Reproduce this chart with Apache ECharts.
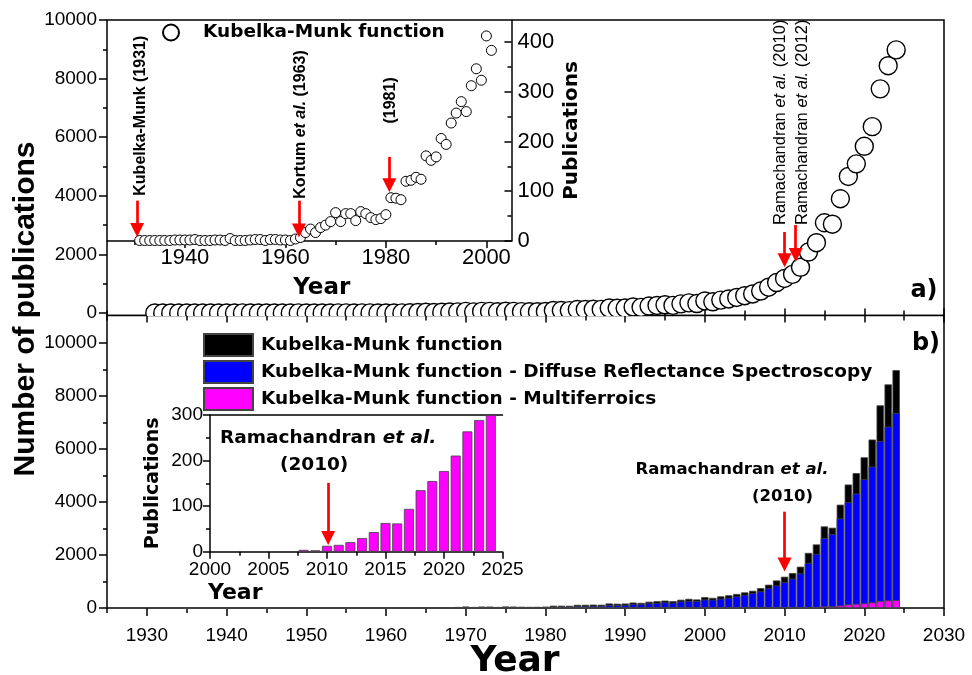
<!DOCTYPE html>
<html>
<head>
<meta charset="utf-8">
<title>Kubelka-Munk function publications</title>
<script src="https://cdn.jsdelivr.net/npm/echarts@6/dist/echarts.min.js"></script>
<style>
  html, body { margin: 0; padding: 0; background: #fff; }
  #wrap { position: relative; width: 972px; height: 675px; }
  #lower { position: absolute; left: 0; top: 0; width: 972px; height: 675px; }
  /* panel a) lives in its own layer so its big markers are cut at the panel edge */
  #upper { position: absolute; left: 0; top: 0; width: 972px; height: 316px; overflow: hidden; }
</style>
</head>
<body>
<div id="wrap"><div id="lower"></div><div id="upper"></div></div>
<script>
// ---- data: publications per year ----
const years = [
  1931,1932,1933,1934,1935,1936,1937,1938,1939,1940,
  1941,1942,1943,1944,1945,1946,1947,1948,1949,1950,
  1951,1952,1953,1954,1955,1956,1957,1958,1959,1960,
  1961,1962,1963,1964,1965,1966,1967,1968,1969,1970,
  1971,1972,1973,1974,1975,1976,1977,1978,1979,1980,
  1981,1982,1983,1984,1985,1986,1987,1988,1989,1990,
  1991,1992,1993,1994,1995,1996,1997,1998,1999,2000,
  2001,2002,2003,2004,2005,2006,2007,2008,2009,2010,
  2011,2012,2013,2014,2015,2016,2017,2018,2019,2020,
  2021,2022,2023,2024
];
// Kubelka-Munk function (all)
const kmTotal = [
  1,1,1,1,1,1,1,2,2,2,
  2,3,1,1,1,2,2,1,5,1,
  1,1,2,3,3,1,3,3,2,2,
  1,4,7,17,24,17,27,32,39,57,
  39,55,55,41,59,55,47,43,45,53,
  87,86,83,120,122,128,124,171,162,169,
  206,194,237,257,280,260,312,346,323,412,
  383,440,480,530,590,650,750,880,1040,1180,
  1320,1560,2080,2400,3080,3030,3900,4660,5090,5690,
  6360,7650,8440,8980
];
// Kubelka-Munk function - Diffuse Reflectance Spectroscopy
const kmDrs = [
  0,0,0,0,0,0,0,0,0,0,
  0,0,0,0,0,0,0,0,0,0,
  0,0,0,0,0,0,0,0,0,0,
  0,0,3,8,12,9,14,17,21,31,
  22,30,30,23,33,30,26,24,25,30,
  50,50,48,75,78,82,80,115,110,118,
  148,140,175,192,212,200,246,267,262,322,
  314,350,390,440,500,560,630,740,850,970,
  1110,1310,1700,2040,2640,2790,3380,3990,4320,4860,
  5340,6300,6850,7360
];
// Kubelka-Munk function - Multiferroics
const kmMulti = [
  0,0,0,0,0,0,0,0,0,0,
  0,0,0,0,0,0,0,0,0,0,
  0,0,0,0,0,0,0,0,0,0,
  0,0,0,0,0,0,0,0,0,0,
  0,0,0,0,0,0,0,0,0,0,
  0,0,0,0,0,0,0,0,0,0,
  0,0,0,0,0,0,0,0,0,0,
  0,0,0,0,0,0,0,4,3,13,
  15,21,30,43,63,62,94,135,155,177,
  211,264,289,300
];

// ---- tick labels ----
const yearMajor = [1930,1940,1950,1960,1970,1980,1990,2000,2010,2020,2030];
const yearMinor = [1925,1935,1945,1955,1965,1975,1985,1995,2005,2015,2025];
const countMajor = [0,2000,4000,6000,8000,10000];
const countMinor = [1000,3000,5000,7000,9000];
const insetYearMajor = [1940,1960,1980,2000];
const insetYearMinor = [1930,1950,1970,1990];
const insetCountMajor = [0,100,200,300,400];
const insetCountMinor = [50,150,250,350];

const NAME_ALL = 'Kubelka-Munk function';
const NAME_DRS = 'Kubelka-Munk function - Diffuse Reflectance Spectroscopy';
const NAME_MF = 'Kubelka-Munk function - Multiferroics';

// ---- styling helpers ----
const INK = '#000';
const RED = '#ff0000';
const SANS = '"Liberation Sans", Arial, Helvetica, sans-serif';
const WIDE = '"DejaVu Sans", Verdana, sans-serif';
const AXW = 1.5;
const plainNumber = v => String(v);

const pairs = (xs, ys) => xs.map((x, i) => [x, ys[i]]);

function tickAxis(base, values, length, inside) {
  return Object.assign({
    type: 'value',
    axisLine: { show: false, onZero: false },
    splitLine: { show: false },
    axisTick: { show: true, inside: inside, length: length, customValues: values,
                lineStyle: { color: INK, width: AXW } },
    axisLabel: { show: false }
  }, base);
}

function labelStyle(size, margin, values) {
  const s = { show: true, color: INK, fontFamily: SANS, fontSize: size, margin: margin,
              formatter: plainNumber };
  if (values) s.customValues = values;
  return s;
}

function arrows(list) {
  return {
    silent: true, animation: false,
    symbol: ['none', 'triangle'], symbolSize: 14,
    lineStyle: { color: RED, width: 2.7, type: 'solid', opacity: 1 },
    itemStyle: { color: RED },
    label: { show: false },
    emphasis: { disabled: true },
    data: list.map(a => [{ coord: [a[0], a[1]] }, { coord: [a[0], a[2]] }])
  };
}

function notes(list, common) {
  return {
    silent: true, animation: false,
    symbol: 'circle', symbolSize: 1,
    itemStyle: { color: 'rgba(0,0,0,0)' },
    label: Object.assign({ show: true, position: 'inside', color: INK }, common),
    emphasis: { disabled: true },
    data: list.map(n => ({ coord: [n[0], n[1]], value: 0, label: { formatter: n[2] } }))
  };
}

// ================= panel a) =================
const upper = echarts.init(document.getElementById('upper'));
const topMain = pairs(years, kmTotal);
const topInset = topMain.filter(p => p[0] <= 2001);

const vertBold = {
  rotate: 90, align: 'left', verticalAlign: 'middle',
  rich: {
    b: { fontFamily: SANS, fontWeight: 'bold', fontSize: 16, color: INK },
    bi: { fontFamily: SANS, fontWeight: 'bold', fontStyle: 'italic', fontSize: 16, color: INK }
  }
};
const vertPlain = {
  rotate: 90, align: 'left', verticalAlign: 'middle',
  rich: {
    r: { fontFamily: SANS, fontSize: 16.5, color: INK },
    ri: { fontFamily: SANS, fontStyle: 'italic', fontSize: 16.5, color: INK }
  }
};

upper.setOption({
  animation: false,
  textStyle: { fontFamily: SANS },
  grid: [
    { left: 107, right: 28, top: 20, height: 295.5, show: true,
      borderColor: INK, borderWidth: AXW, outerBoundsMode: 'none' },
    { left: 107, top: 20, width: 404.5, height: 221, show: false, outerBoundsMode: 'none' }
  ],
  xAxis: [
    tickAxis({ gridIndex: 0, min: 1925, max: 2030, position: 'bottom' }, yearMajor, 7, true),
    tickAxis({ gridIndex: 0, min: 1925, max: 2030, position: 'bottom' }, yearMinor, 5, true),
    {
      gridIndex: 1, type: 'value', min: 1924.5, max: 2005, position: 'bottom',
      axisLine: { show: true, onZero: false, lineStyle: { color: INK, width: AXW } },
      splitLine: { show: false },
      axisTick: { show: true, inside: false, length: 7, customValues: insetYearMajor,
                  lineStyle: { color: INK, width: AXW } },
      axisLabel: labelStyle(22, 6, insetYearMajor),
      name: 'Year', nameLocation: 'middle', nameGap: 36, nameMoveOverlap: false,
      nameTextStyle: { fontFamily: WIDE, fontWeight: 'bold', fontSize: 23, color: INK,
                       padding: [0, 0, 0, 25] }
    },
    tickAxis({ gridIndex: 1, min: 1924.5, max: 2005, position: 'bottom' }, insetYearMinor, 4, false)
  ],
  yAxis: [
    // tick labels of this axis are drawn by the lower layer so they are not cut
    tickAxis({ gridIndex: 0, min: -85, max: 10000, position: 'left' }, countMajor, 8, false),
    tickAxis({ gridIndex: 0, min: -85, max: 10000, position: 'left' }, countMinor, 4, false),
    {
      gridIndex: 1, type: 'value', min: 0, max: 444, position: 'right',
      axisLine: { show: true, onZero: false, lineStyle: { color: INK, width: AXW } },
      splitLine: { show: false },
      axisTick: { show: true, inside: true, length: 7, customValues: insetCountMajor,
                  lineStyle: { color: INK, width: AXW } },
      axisLabel: labelStyle(22, 6, insetCountMajor),
      name: 'Publications', nameLocation: 'middle', nameGap: 50, nameRotate: 90,
      nameMoveOverlap: false,
      nameTextStyle: { fontFamily: WIDE, fontWeight: 'bold', fontSize: 20, color: INK }
    },
    tickAxis({ gridIndex: 1, min: 0, max: 444, position: 'right' }, insetCountMinor, 4, true)
  ],
  legend: {
    data: [NAME_ALL],
    left: 162, top: 23, orient: 'horizontal', padding: 0,
    itemWidth: 16, itemHeight: 16, selectedMode: false,
    icon: 'emptyCircle',
    itemStyle: { color: INK, borderColor: INK, borderWidth: 1.4 },
    textStyle: { fontFamily: WIDE, fontWeight: 'bold', fontSize: 18.5, color: INK,
                 padding: [0, 0, 0, 19] }
  },
  series: [
    {
      type: 'scatter', name: NAME_ALL, xAxisIndex: 0, yAxisIndex: 0,
      data: topMain, symbol: 'circle', symbolSize: 18, clip: false,
      itemStyle: { color: '#fff', borderColor: INK, borderWidth: 1.4, opacity: 1 },
      emphasis: { disabled: true },
      markLine: arrows([[2010, 2765, 1800], [2011.4, 3003, 1980]]),
      markPoint: notes([
        [2009.5, 3003, '{r|Ramachandran }{ri|et al.}{r| (2010)}'],
        [2012.3, 3003, '{r|Ramachandran }{ri|et al.}{r| (2012)}']
      ], vertPlain)
    },
    {
      type: 'scatter', name: NAME_ALL, xAxisIndex: 2, yAxisIndex: 2,
      data: topInset, symbol: 'circle', symbolSize: 10,
      itemStyle: { color: '#fff', borderColor: INK, borderWidth: 1, opacity: 1 },
      emphasis: { disabled: true },
      markLine: arrows([[1930.5, 81, 22], [1962.7, 81, 21], [1980.7, 169, 112]]),
      markPoint: notes([
        [1931.2, 91, '{b|Kubelka-Munk (1931)}'],
        [1963.1, 85, '{b|Kortum }{bi|et al.}{b| (1963)}'],
        [1981.0, 236, '{b|(1981)}']
      ], vertBold)
    }
  ],
  graphic: [
    { type: 'text', x: 924, y: 291,
      style: { text: 'a)', fill: INK, font: 'bold 24px "DejaVu Sans"',
               align: 'center', verticalAlign: 'middle' } }
  ]
});

// ================= panel b) =================
const lower = echarts.init(document.getElementById('lower'));
const insetMulti = pairs(years, kmMulti).filter(p => p[0] >= 2000 && p[1] > 0);

const horiz = {
  align: 'center', verticalAlign: 'middle',
  rich: {
    b: { fontFamily: WIDE, fontWeight: 'bold', fontSize: 16.5, color: INK },
    bi: { fontFamily: WIDE, fontWeight: 'bold', fontStyle: 'italic', fontSize: 16.5, color: INK },
    B: { fontFamily: WIDE, fontWeight: 'bold', fontSize: 18.5, color: INK },
    Bi: { fontFamily: WIDE, fontWeight: 'bold', fontStyle: 'italic', fontSize: 18.5, color: INK }
  }
};

const barBorder = { borderColor: '#444', borderWidth: 0.8 };
const MAIN_BAR = 7.4;

lower.setOption({
  animation: false,
  textStyle: { fontFamily: SANS },
  grid: [
    { left: 107, right: 28, top: 315.5, height: 292.5, show: true,
      borderColor: INK, borderWidth: AXW, outerBoundsMode: 'none' },
    { left: 210, top: 415, width: 292.5, height: 136.7, show: false, outerBoundsMode: 'none' },
    // same frame as panel a), carries its count labels
    { left: 107, right: 28, top: 20, height: 295.5, show: false, outerBoundsMode: 'none' }
  ],
  xAxis: [
    {
      gridIndex: 0, type: 'value', min: 1925, max: 2030, position: 'bottom',
      axisLine: { show: false, onZero: false },
      splitLine: { show: false },
      axisTick: { show: true, inside: false, length: 8, customValues: yearMajor,
                  lineStyle: { color: INK, width: AXW } },
      axisLabel: labelStyle(19, 18, yearMajor),
      name: 'Year', nameLocation: 'middle', nameGap: 36, nameMoveOverlap: false,
      nameTextStyle: { fontFamily: WIDE, fontWeight: 'bold', fontSize: 36, color: INK,
                       padding: [0, 21, 0, 0] }
    },
    tickAxis({ gridIndex: 0, min: 1925, max: 2030, position: 'bottom' }, yearMinor, 5, false),
    tickAxis({ gridIndex: 0, min: 1925, max: 2030, position: 'top' }, yearMajor, 7, true),
    tickAxis({ gridIndex: 0, min: 1925, max: 2030, position: 'top' }, yearMinor, 5, true),
    {
      gridIndex: 1, type: 'value', min: 2000, max: 2025, interval: 5, position: 'bottom',
      axisLine: { show: true, onZero: false, lineStyle: { color: INK, width: AXW } },
      splitLine: { show: false },
      axisTick: { show: true, inside: false, length: 7, lineStyle: { color: INK, width: AXW } },
      minorTick: { show: true, splitNumber: 2, length: 4, lineStyle: { color: INK, width: AXW } },
      axisLabel: labelStyle(19, 9),
      name: 'Year', nameLocation: 'middle', nameGap: 31, nameMoveOverlap: false,
      nameTextStyle: { fontFamily: WIDE, fontWeight: 'bold', fontSize: 22, color: INK,
                       padding: [0, 242, 0, 0] }
    },
    {
      gridIndex: 1, type: 'value', min: 2000, max: 2025, position: 'top',
      axisLine: { show: true, onZero: false, lineStyle: { color: INK, width: AXW } },
      splitLine: { show: false }, axisTick: { show: false }, axisLabel: { show: false }
    },
    {
      gridIndex: 2, type: 'value', min: 1925, max: 2030, show: false
    }
  ],
  yAxis: [
    {
      gridIndex: 0, type: 'value', min: 0, max: 11040, position: 'left',
      axisLine: { show: false, onZero: false },
      splitLine: { show: false },
      axisTick: { show: true, inside: false, length: 8, customValues: countMajor,
                  lineStyle: { color: INK, width: AXW } },
      axisLabel: labelStyle(19, 10, countMajor)
    },
    tickAxis({ gridIndex: 0, min: 0, max: 11040, position: 'left' }, countMinor, 4, false),
    {
      gridIndex: 1, type: 'value', min: 0, max: 300, interval: 100, position: 'left',
      axisLine: { show: true, onZero: false, lineStyle: { color: INK, width: AXW } },
      splitLine: { show: false },
      axisTick: { show: true, inside: false, length: 7, lineStyle: { color: INK, width: AXW } },
      minorTick: { show: true, splitNumber: 2, length: 4, lineStyle: { color: INK, width: AXW } },
      axisLabel: labelStyle(19, 7),
      name: 'Publications', nameLocation: 'middle', nameGap: 47, nameMoveOverlap: false,
      nameTextStyle: { fontFamily: WIDE, fontWeight: 'bold', fontSize: 19, color: INK }
    },
    {
      gridIndex: 2, type: 'value', min: -85, max: 10000, position: 'left',
      axisLine: { show: false, onZero: false },
      splitLine: { show: false },
      axisTick: { show: false },
      axisLabel: labelStyle(19, 10, countMajor)
    }
  ],
  legend: {
    data: [NAME_ALL, NAME_DRS, NAME_MF], orient: 'vertical', left: 203, top: 333, padding: 0,
    itemWidth: 49, itemHeight: 22, itemGap: 3, icon: 'rect', selectedMode: false,
    textStyle: { fontFamily: WIDE, fontWeight: 'bold', fontSize: 18.5, color: INK,
                 padding: [0, 0, 0, 3] }
  },
  series: [
    {
      type: 'bar', name: NAME_ALL, xAxisIndex: 0, yAxisIndex: 0,
      data: pairs(years, kmTotal), barWidth: MAIN_BAR, barGap: '-100%',
      itemStyle: Object.assign({ color: '#000' }, barBorder), emphasis: { disabled: true }
    },
    {
      type: 'bar', name: NAME_DRS, xAxisIndex: 0, yAxisIndex: 0,
      data: pairs(years, kmDrs), barWidth: MAIN_BAR, barGap: '-100%',
      itemStyle: Object.assign({ color: '#0000ff' }, barBorder), emphasis: { disabled: true }
    },
    {
      type: 'bar', name: NAME_MF, xAxisIndex: 0, yAxisIndex: 0,
      data: pairs(years, kmMulti), barWidth: MAIN_BAR, barGap: '-100%',
      itemStyle: Object.assign({ color: '#ff00ff' }, barBorder), emphasis: { disabled: true },
      markLine: arrows([[2010, 3635, 1640]]),
      markPoint: notes([
        [2003.4, 5208, '{b|Ramachandran }{bi|et al.}'],
        [2009.75, 4201, '{b|(2010)}']
      ], horiz)
    },
    {
      type: 'bar', name: NAME_MF, xAxisIndex: 4, yAxisIndex: 2,
      data: insetMulti, barWidth: 10,
      itemStyle: Object.assign({ color: '#ff00ff' }, barBorder), emphasis: { disabled: true },
      markLine: arrows([[2010.1, 151, 30]]),
      markPoint: notes([
        [2010.1, 249, '{B|Ramachandran }{Bi|et al.}'],
        [2008.9, 190, '{B|(2010)}']
      ], horiz)
    }
  ],
  graphic: [
    { type: 'text', x: 26, y: 309, rotation: Math.PI / 2,
      style: { text: 'Number of publications', fill: INK, font: 'bold 30px "Liberation Sans"',
               align: 'center', verticalAlign: 'middle' } },
    { type: 'text', x: 926, y: 344,
      style: { text: 'b)', fill: INK, font: 'bold 24px "DejaVu Sans"',
               align: 'center', verticalAlign: 'middle' } }
  ]
});
</script>
</body>
</html>
